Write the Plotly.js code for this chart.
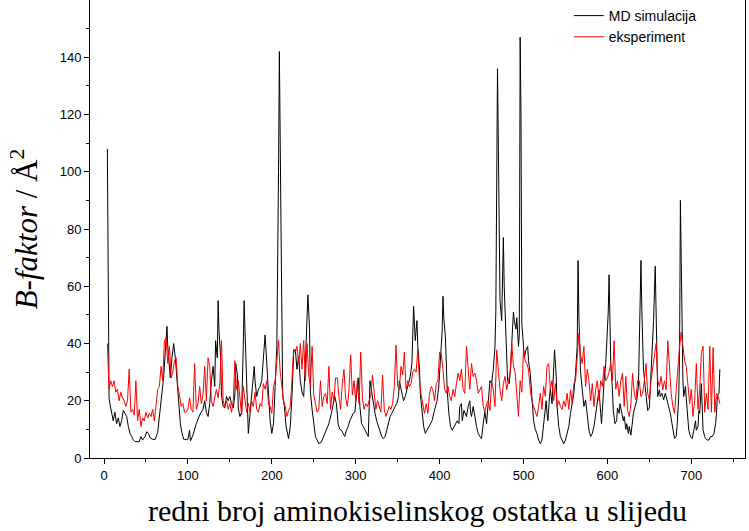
<!DOCTYPE html>
<html>
<head>
<meta charset="utf-8">
<script src="https://cdn.plot.ly/plotly-3.0.1.min.js"></script>
<style>html,body{margin:0;padding:0;background:#fff;}#chart{width:749px;height:531px;}</style>
</head>
<body>
<div id="chart"></div>
<script>
// MD simulation B-factors (residue number, value)
const blackRes = [4,6,7,9,11,13,15,17,19,21,23,25,27,29,31,33,35,37,40,42,44,46,49,51,53,55,58,61,64,66,69,71,73,75,76,78,79,81,83,85,87,89,91,93,95,98,100,102,103,106,110,114,118,120,122,124,126,128,130,132,133,135,136,137,139,140,142,144,146,148,150,152,154,156,157,159,160,162,164,166,167,168,170,171,172,173,175,177,179,180,182,184,186,188,190,192,193,195,196,198,200,202,204,206,208,209,211,212,213,215,217,220,222,224,226,228,230,232,234,236,238,240,242,243,245,246,248,250,252,254,256,259,262,265,268,271,274,275,277,279,281,283,285,287,289,291,293,295,297,299,301,303,305,307,309,311,313,315,317,319,321,323,325,327,329,331,333,335,337,339,341,343,345,347,349,351,352,354,355,357,359,361,363,365,367,369,371,373,374,376,377,379,381,383,385,387,389,391,393,395,397,399,401,403,404,405,407,408,409,411,412,413,415,417,419,421,423,424,426,427,429,430,432,434,436,437,438,440,441,442,444,446,448,450,452,454,456,458,460,462,464,466,467,469,470,472,474,476,477,479,481,483,485,486,488,489,491,492,494,495,496,497,498,500,501,503,505,506,508,510,512,514,516,518,520,522,524,525,527,528,529,531,532,534,536,537,539,540,542,544,546,548,550,552,554,556,558,560,562,564,565,566,568,570,572,574,576,578,580,582,584,586,588,590,592,593,595,596,598,599,601,602,603,604,606,607,609,611,612,614,615,617,619,620,622,623,625,626,628,630,631,633,635,637,638,640,641,643,645,647,648,650,651,652,654,655,657,658,659,660,662,663,665,667,669,671,673,675,677,679,680,682,683,685,686,687,689,690,691,693,695,697,699,701,703,705,706,708,709,710,712,713,714,716,717,719,721,723,725,727,729,730,731,733,734];
const blackVal = [108,21,19,16,13,16,12,14,11,13,16.6,15.6,14.5,11,8.6,7.5,6.3,5.7,5.7,5.7,7.5,6.3,7.5,9.2,8.6,7,6.5,6.5,9,15,22,28,37,46,39,30,28,35,40,35,27,19,12,8.6,6.5,6.5,6.5,9.7,6,8,12,15,17,20,16,14.5,19,27,32,25,41,35,55,45,35,22,18,17.5,21.5,20,21.5,19,17.5,22,33,29,17.5,14.5,16,39,55,45,22,12,8.6,12,19,28,32,27,21.5,24,25,27,35,43,38,27,21,13,8.6,12,25,39,100,142,80,39,21.5,18,11,6.8,11,21.5,36.7,38,31,35.5,27,23,21.5,33,47,57,45,23,17,12,7.5,6.3,5,5.5,7.5,9.7,12,15.6,20,21.5,19,12,10,9.7,8.6,7.5,9.7,11,13,14.5,15.6,16,21.5,28,18,12,11,9.7,8.6,7.5,27,22.6,19,15.6,13,11,8.6,7.5,6.8,7.5,9.7,12,14.5,15.6,17,18,19,21.5,27,24,22.6,20,21.5,24,26,28.5,33,53,41,48,39,31,22.6,15.6,11,8.6,9.7,11,12,13,15.6,18,20,25,33,44,56.5,49,42,34,23.8,15.6,13,11,9.7,11,12,13,12,18,19,13,16.6,15.6,14.5,18,20,15.6,14.5,18,15.6,14.5,11,8.6,7.5,6.8,12,16,12,21.5,27,26,31,39,51,136,100,55,48,77,60,40,27,26,33,40,51,48,45,49,39,43,147,120,47,39,35,37.8,39,34,29.6,21.5,13,10,8.6,6.3,5,6.3,11,14.5,20,15.6,13,21.5,24,19,33,37.8,28.5,18,11,7.5,6.3,5,6.3,8.6,11,15.6,19,22.6,29.6,39,69,50,30,22.6,18,20.3,15.6,9.7,7.5,8.6,11,15.6,19,23.8,15.6,12,21.5,27,33,39,51,64,51,33,23.8,16.6,12,13,17.5,15.6,19,15.6,13,14.5,10,12,8.6,11,8,13,15.6,18,20.3,25,39,69,52,31,25,20,16.6,17.5,23.8,27,39,48,67,51,33,21.5,23.8,21.5,22.6,20.3,22.6,20.3,18,15.6,12,7.5,6.8,7.5,11,21.5,36,90,45,27,21.5,25,17,9.7,7.5,6.8,9.7,13,9.7,11,16.6,15.6,26,16.6,9.7,7.5,6.8,6.3,6.3,7.5,7.5,8.6,12,15.6,21.5,22.6,31];

// Experimental B-factors, every 2nd residue starting at residue 4
const redStart = 4;
const redStep = 2;
const redVal = [
  40,24,27,25,27,23,24,20,23,21,
  20,18,20,31,16,17,15,27,13,17,
  11,14,13,16,14,15.6,14.5,17,13,18,
  24,25,32,27,41,42,33,39,28,30,
  34,35,25,22,18,19,16,16,17,21,
  17,16,33,17,19,25,19,22,32,20,
  35,32,20,18,21,24,21,26,41,20,
  18,20,17,19,16,20,34,24,27,20,
  15,25,20,16,19,16,20,18,23,17,
  16,19,18,26,24,27,19,18,15.6,25,
  27,33,41,30,24,20,18,14.5,16.6,18,
  27,38,37,39,33,40,31,41,27,40,
  29,25,39,22,19,16,17,27,18,21.5,
  22.6,19,32,17,23,20,28,28,21.5,17,
  26,31,21,18,24,36,22,27,20,27,
  19,37,21,17,19,18,20,22,29,22,
  17,20,18,16,29,17,14.5,16,18,17,
  19,25,39.5,25,24,32,29,37,24,27,
  25,26,30,31,30,38,27,22,19,15.6,
  19,15.6,22.6,25,23.8,20,26,27,37,36.6,
  31,24,22.6,25,21.5,20,24,21.5,26,29.6,
  27,31,24,22.6,39,31,24,33,28.5,29.6,
  27,22.6,24,25,18,16,19,20,16.6,27,
  23.8,18,37.8,30,23.8,20,26,28.5,23.8,27,
  29.6,40,32,30,21.5,14.5,27,23,37.8,34,
  33,30.8,24,20,18,16,14.5,18,22.6,17,
  25,21.5,32,33,24,27,20,26,18,20,
  18,17,20,18,22.6,17,23.8,19,26,27,
  34,43.6,36,33,39,25,31,27,20,26,
  18,24,27,20,27,25,32,27,28,30,
  33,27,41,24,27,21.5,27,29.6,18,28.5,
  16.6,14.5,19,29.6,22.6,20.3,27,27,21.5,22.6,
  27,33,22.6,20.3,27,31,34.3,40,27,25,
  28.5,23.8,27,23.8,41,29.6,22.6,18,15.6,23.8,
  32,39,44,39,34,32,24,19,24,14.5,
  20,33,17,24,36.6,39,16,22.6,17,39,
  16,38.6,16,22.6,21.5,19
];
const redRes = redVal.map((_, i) => redStart + redStep * i);

const seriesNames = ['MD simulacija', 'eksperiment'];
const xTicks = [0,100,200,300,400,500,600,700];
const yTicks = [0,20,40,60,80,100,120,140];

const traces = [
  {x: blackRes, y: blackVal, type: 'scatter', mode: 'lines', name: seriesNames[0],
   line: {color: '#000000', width: 1}},
  {x: redRes, y: redVal, type: 'scatter', mode: 'lines', name: seriesNames[1],
   line: {color: '#ff0000', width: 1}}
];

const tickFont = {family: 'Liberation Sans, Arial, sans-serif', size: 13, color: '#000'};
const layout = {
  width: 749, height: 531,
  margin: {l: 90, r: 4, t: 0, b: 73},
  paper_bgcolor: '#fff', plot_bgcolor: '#fff',
  showlegend: true,
  legend: {x: 0.731, y: 1.0, xanchor: 'left', yanchor: 'top', bgcolor: 'rgba(0,0,0,0)',
           font: {family: 'Liberation Sans, Arial, sans-serif', size: 14, color: '#000'},
           tracegroupgap: 0, itemwidth: 30},
  xaxis: {
    range: [-16.7, 764], tickvals: xTicks, ticktext: xTicks.map(String),
    ticks: 'outside', ticklen: 5, tickwidth: 1, tickcolor: '#000',
    minor: {tickvals: [50,150,250,350,450,550,650,750], ticks: 'outside', ticklen: 3, tickcolor: '#000'},
    showline: true, linecolor: '#000', linewidth: 1, mirror: true,
    showgrid: false, zeroline: false, tickfont: tickFont,
    title: {text: 'redni broj aminokiselinskog ostatka u slijedu',
            font: {family: 'Liberation Serif, Times New Roman, serif', size: 30, color: '#000'}, standoff: 18}
  },
  yaxis: {
    range: [0, 160], tickvals: yTicks, ticktext: yTicks.map(String),
    ticks: 'outside', ticklen: 5, tickwidth: 1, tickcolor: '#000',
    minor: {tickvals: [10,30,50,70,90,110,130,150], ticks: 'outside', ticklen: 3, tickcolor: '#000'},
    showline: true, linecolor: '#000', linewidth: 1, mirror: true,
    showgrid: false, zeroline: false, tickfont: tickFont,
    title: {text: '<i>B-faktor</i> / Å<sup>2</sup>',
            font: {family: 'Liberation Serif, Times New Roman, serif', size: 31, color: '#000'}, standoff: 12}
  }
};

Plotly.newPlot('chart', traces, layout, {displayModeBar: false, staticPlot: true});
</script>
</body>
</html>
